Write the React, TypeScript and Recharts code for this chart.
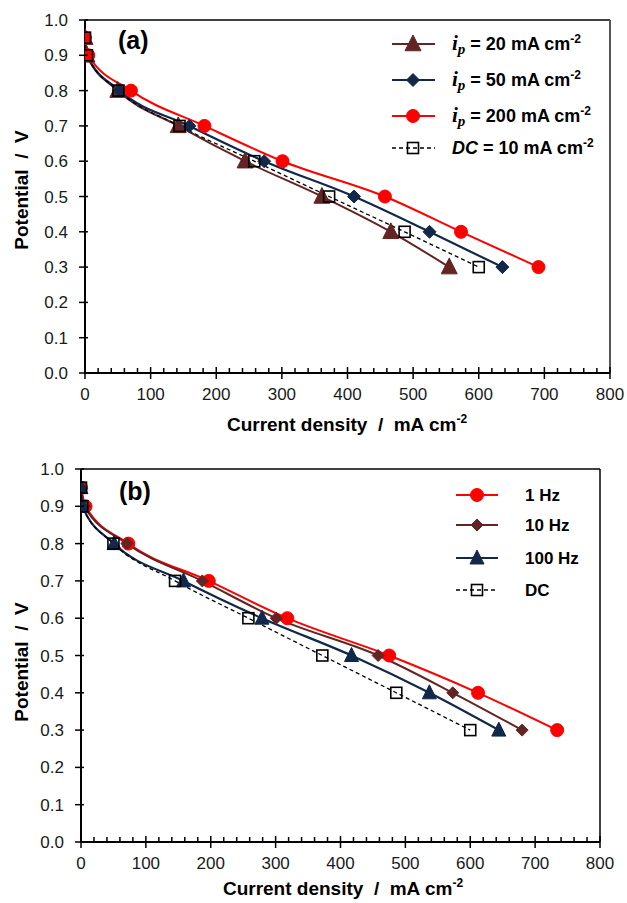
import React from 'react';
import { LineChart, Line, XAxis, YAxis, ReferenceLine, Legend } from 'recharts';

// ---------- data ----------
const potentialA = [0.95, 0.9, 0.8, 0.7, 0.6, 0.5, 0.4, 0.3];
const currentIp20 = [0, 3, 50, 142, 244, 361, 466, 555];
const currentIp50 = [0, 3, 53, 159, 273, 410, 525, 636];
const currentIp200 = [0, 5, 70, 182, 301, 457, 573, 691];
const currentDcA = [0, 3, 51, 144, 258, 372, 487, 600];

const potentialB = [0.95, 0.9, 0.8, 0.7, 0.6, 0.5, 0.4, 0.3];
const current1Hz = [0, 7, 73, 197, 318, 475, 612, 734];
const current10Hz = [0, 5, 71, 187, 301, 458, 573, 680];
const current100Hz = [0, 2, 51, 158, 279, 417, 537, 644];
const currentDcB = [0, 2, 50, 145, 258, 372, 486, 600];

const xTicks = [0, 20, 40, 60, 80, 100, 120, 140, 160, 180, 200, 220, 240, 260, 280, 300, 320, 340, 360, 380, 400, 420, 440, 460, 480, 500, 520, 540, 560, 580, 600, 620, 640, 660, 680, 700, 720, 740, 760, 780, 800];
const yTicks = [0, 0.1, 0.2, 0.3, 0.4, 0.5, 0.6, 0.7, 0.8, 0.9, 1.0];

const namesA = ['ip = 20 mA cm-2', 'ip = 50 mA cm-2', 'ip = 200 mA cm-2', 'DC = 10 mA cm-2'];
const namesB = ['1 Hz', '10 Hz', '100 Hz', 'DC'];

const BROWN = '#632523';
const NAVY = '#12284A';
const RED = '#FF0000';

const FONT = '"Liberation Sans", Arial, Helvetica, sans-serif';
const SP = '\u00A0';

const toPoints = (xs: number[], ys: number[]) => xs.map((x, i) => ({ i: x, v: ys[i] }));

// ---------- markers ----------
type MarkerKind = 'triangle' | 'diamond' | 'circle' | 'square';
const Marker = ({ kind, cx, cy, color, big }: { kind: MarkerKind; cx: number; cy: number; color: string; big?: boolean }) => {
  if (kind === 'triangle') {
    const w = big ? 8 : 7;
    const h = big ? 9 : 8;
    return <polygon points={`${cx},${cy - h} ${cx + w},${cy + h * 0.75} ${cx - w},${cy + h * 0.75}`} fill={color} stroke={color} />;
  }
  if (kind === 'diamond') {
    const d = big ? 6.5 : 6;
    return <polygon points={`${cx},${cy - d} ${cx + d},${cy} ${cx},${cy + d} ${cx - d},${cy}`} fill={color} stroke={color} />;
  }
  if (kind === 'circle') {
    return <circle cx={cx} cy={cy} r={6.5} fill={color} stroke={color} />;
  }
  return <rect x={cx - 5.5} y={cy - 5.5} width={11} height={11} fill="none" stroke="#000" strokeWidth={1.6} />;
};

const makeDot = (kind: MarkerKind, color: string, big?: boolean) => (props: any) => {
  const { cx, cy, index } = props;
  if (cx == null || cy == null) return <g key={`e-${index}`} />;
  return (
    <g key={`${kind}-${index}`}>
      <Marker kind={kind} cx={cx} cy={cy} color={color} big={big} />
    </g>
  );
};

// ---------- ticks ----------
const XTick = (props: any) => {
  const { x, y, payload } = props;
  const v = payload.value as number;
  const major = v % 100 === 0;
  return (
    <g>
      <line x1={x} x2={x} y1={major ? y - 6 : y - 5} y2={major ? y + 6 : y} stroke="#000" strokeWidth={1.5} />
      {major && (
        <text x={x} y={y + 27} textAnchor="middle" fontSize={17} fontFamily={FONT} fill="#1a1a1a">
          {v}
        </text>
      )}
    </g>
  );
};

const YTick = (props: any) => {
  const { x, y, payload } = props;
  const v = payload.value as number;
  return (
    <g>
      <line x1={x - 6} x2={x + 3} y1={y} y2={y} stroke="#000" strokeWidth={1.5} />
      <text x={x - 17} y={y + 6} textAnchor="end" fontSize={17} fontFamily={FONT} fill="#1a1a1a">
        {v.toFixed(1)}
      </text>
    </g>
  );
};

// ---------- legends ----------
const LegendA = () => {
  const rows: { y: number; kind: MarkerKind; color: string; dashed?: boolean }[] = [
    { y: 44, kind: 'triangle', color: BROWN },
    { y: 80, kind: 'diamond', color: NAVY },
    { y: 116, kind: 'circle', color: RED },
    { y: 148, kind: 'square', color: '#000', dashed: true },
  ];
  const vals = ['20', '50', '200', '10'];
  return (
    <svg width={627} height={180} style={{ position: 'absolute', left: 0, top: 0, pointerEvents: 'none' }}>
      {rows.map((r, i) => (
        <g key={i}>
          <line x1={392} x2={435} y1={r.y} y2={r.y} stroke={r.color} strokeWidth={r.dashed ? 1.3 : 2} strokeDasharray={r.dashed ? '4 3' : undefined} />
          <Marker kind={r.kind} cx={413} cy={r.y} color={r.color} big />
          <text x={452} y={r.y + 6} fontSize={18} fontWeight="bold" fontFamily={FONT} fill="#000">
            {i < 3 ? (
              <>
                <tspan fontFamily='"Liberation Serif", "Times New Roman", serif' fontStyle="italic" fontSize={21}>i</tspan>
                <tspan fontFamily='"Liberation Serif", "Times New Roman", serif' fontStyle="italic" fontSize={15} dy={4}>p</tspan>
                <tspan dy={-4}>{`${SP}= ${vals[i]} mA cm`}</tspan>
              </>
            ) : (
              <>
                <tspan fontStyle="italic">DC</tspan>
                <tspan>{`${SP}= ${vals[i]} mA cm`}</tspan>
              </>
            )}
            <tspan fontSize={12} dy={-7}>-2</tspan>
          </text>
        </g>
      ))}
    </svg>
  );
};

const LegendB = () => {
  const rows: { y: number; kind: MarkerKind; color: string; dashed?: boolean }[] = [
    { y: 45, kind: 'circle', color: RED },
    { y: 75, kind: 'diamond', color: BROWN },
    { y: 108, kind: 'triangle', color: NAVY },
    { y: 140, kind: 'square', color: '#000', dashed: true },
  ];
  return (
    <svg width={627} height={180} style={{ position: 'absolute', left: 0, top: 0, pointerEvents: 'none' }}>
      {rows.map((r, i) => (
        <g key={i}>
          <line x1={456} x2={498} y1={r.y} y2={r.y} stroke={r.color} strokeWidth={r.dashed ? 1.3 : 2} strokeDasharray={r.dashed ? '4 3' : undefined} />
          <Marker kind={r.kind} cx={477} cy={r.y} color={r.color} />
          <text x={525} y={r.y + 6} fontSize={17} fontWeight="bold" fontFamily={FONT} fill="#000">
            {namesB[i]}
          </text>
        </g>
      ))}
    </svg>
  );
};

const yTitle = `Potential${SP}${SP}/${SP}${SP}V`;
const xTitle = `Current density${SP}${SP}/${SP}${SP}mA cm`;

// ---------- app ----------
export default function App() {
  const axisLine = { stroke: '#000', strokeWidth: 2 };
  return (
    <div style={{ position: 'absolute', left: 0, top: 0, width: 627, height: 903, background: '#fff', fontFamily: FONT }}>
      {/* Chart (a) */}
      <div style={{ position: 'absolute', left: 0, top: 0 }}>
        <LineChart width={627} height={440} margin={{ top: 20, right: 17, bottom: 37, left: 0 }}>
          <XAxis dataKey="i" type="number" domain={[0, 800]} ticks={xTicks} interval={0} tickSize={0} tickMargin={0} tickLine={false} tick={<XTick />} axisLine={axisLine} height={30} allowDataOverflow />
          <YAxis dataKey="v" type="number" domain={[0, 1]} ticks={yTicks} interval={0} tickSize={0} tickMargin={0} tickLine={false} tick={<YTick />} axisLine={axisLine} width={85} allowDataOverflow />
          <ReferenceLine y={1} stroke="#000" strokeWidth={1.5} />
          <ReferenceLine x={800} stroke="#555" strokeWidth={2} />
          <Line data={toPoints(currentIp20, potentialA)} dataKey="v" name={namesA[0]} type="monotone" stroke={BROWN} strokeWidth={2} dot={makeDot('triangle', BROWN, true)} activeDot={false} isAnimationActive={false} />
          <Line data={toPoints(currentIp50, potentialA)} dataKey="v" name={namesA[1]} type="monotone" stroke={NAVY} strokeWidth={2.2} dot={makeDot('diamond', NAVY, true)} activeDot={false} isAnimationActive={false} />
          <Line data={toPoints(currentIp200, potentialA)} dataKey="v" name={namesA[2]} type="monotone" stroke={RED} strokeWidth={2} dot={makeDot('circle', RED, true)} activeDot={false} isAnimationActive={false} />
          <Line data={toPoints(currentDcA, potentialA)} dataKey="v" name={namesA[3]} type="monotone" stroke="#000" strokeWidth={1.3} strokeDasharray="4 3" dot={makeDot('square', '#000', true)} activeDot={false} isAnimationActive={false} />
          <Legend layout="horizontal" verticalAlign="middle" align="center" content={() => <LegendA />} wrapperStyle={{ position: 'absolute', left: 0, top: 0, width: 627, height: 0 }} />
        </LineChart>
      </div>

      {/* Chart (b) */}
      <div style={{ position: 'absolute', left: 0, top: 450 }}>
        <LineChart width={627} height={453} margin={{ top: 19, right: 27, bottom: 31, left: 0 }}>
          <XAxis dataKey="i" type="number" domain={[0, 800]} ticks={xTicks} interval={0} tickSize={0} tickMargin={0} tickLine={false} tick={<XTick />} axisLine={axisLine} height={30} allowDataOverflow />
          <YAxis dataKey="v" type="number" domain={[0, 1]} ticks={yTicks} interval={0} tickSize={0} tickMargin={0} tickLine={false} tick={<YTick />} axisLine={axisLine} width={81} allowDataOverflow />
          <ReferenceLine y={1} stroke="#000" strokeWidth={1.5} />
          <ReferenceLine x={800} stroke="#000" strokeWidth={1.5} />
          <Line data={toPoints(current1Hz, potentialB)} dataKey="v" name={namesB[0]} type="monotone" stroke={RED} strokeWidth={2} dot={makeDot('circle', RED)} activeDot={false} isAnimationActive={false} />
          <Line data={toPoints(current10Hz, potentialB)} dataKey="v" name={namesB[1]} type="monotone" stroke={BROWN} strokeWidth={2} dot={makeDot('diamond', BROWN)} activeDot={false} isAnimationActive={false} />
          <Line data={toPoints(current100Hz, potentialB)} dataKey="v" name={namesB[2]} type="monotone" stroke={NAVY} strokeWidth={2.2} dot={makeDot('triangle', NAVY)} activeDot={false} isAnimationActive={false} />
          <Line data={toPoints(currentDcB, potentialB)} dataKey="v" name={namesB[3]} type="monotone" stroke="#000" strokeWidth={1.3} strokeDasharray="4 3" dot={makeDot('square', '#000')} activeDot={false} isAnimationActive={false} />
          <Legend layout="horizontal" verticalAlign="middle" align="center" content={() => <LegendB />} wrapperStyle={{ position: 'absolute', left: 0, top: 0, width: 627, height: 0 }} />
        </LineChart>
      </div>

      {/* Titles and panel labels */}
      <svg width={627} height={903} style={{ position: 'absolute', left: 0, top: 0, pointerEvents: 'none' }}>
        <text x={118} y={49} fontSize={25} fontWeight="bold" fontFamily={FONT}>(a)</text>
        <text x={119} y={500} fontSize={25} fontWeight="bold" fontFamily={FONT}>(b)</text>
        <text transform="translate(28,190) rotate(-90)" textAnchor="middle" fontSize={19} fontWeight="bold" fontFamily={FONT}>
          {yTitle}
        </text>
        <text transform="translate(28,662) rotate(-90)" textAnchor="middle" fontSize={19} fontWeight="bold" fontFamily={FONT}>
          {yTitle}
        </text>
        <text x={347} y={431} textAnchor="middle" fontSize={19} fontWeight="bold" fontFamily={FONT}>
          {xTitle}<tspan fontSize={12} dy={-8}>-2</tspan>
        </text>
        <text x={343} y={895} textAnchor="middle" fontSize={19} fontWeight="bold" fontFamily={FONT}>
          {xTitle}<tspan fontSize={12} dy={-8}>-2</tspan>
        </text>
      </svg>
    </div>
  );
}
